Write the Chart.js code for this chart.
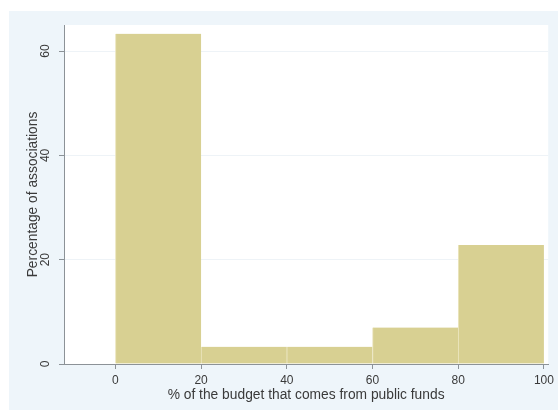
<!DOCTYPE html>
<html lang="en">
<head>
    <meta charset="UTF-8">
    <title>Share of budget from public funds</title>
    <script src="https://cdn.jsdelivr.net/npm/chart.js"></script>
    <style>
        html, body { margin: 0; padding: 0; background: #ffffff; }
        #wrap { width: 558px; height: 410px; }
    </style>
</head>
<body>
    <div id="wrap"><canvas id="histChart" width="558" height="410"></canvas></div>

    <script>
        // histogram bins (lower edge, upper edge) and share of associations in each
        const binStarts = [0, 20, 40, 60, 80];
        const binWidth = 20;
        const percentages = [63.3, 3.3, 3.3, 7.0, 22.8];
        const xTicks = [0, 20, 40, 60, 80, 100];
        const yTicks = [0, 20, 40, 60];

        const textColor = '#3a3a3a';
        const axisColor = '#8c9297';
        const font = 'Liberation Sans, Arial, Helvetica, sans-serif';

        // outer panel + white plot region, then rotated y tick labels
        const stataBackground = {
            id: 'stataBackground',
            beforeDraw(chart) {
                const ctx = chart.ctx;
                const a = chart.chartArea;
                ctx.save();
                ctx.fillStyle = '#eef5fa';
                ctx.fillRect(9, 11, chart.width - 9, chart.height - 11);
                ctx.fillStyle = '#ffffff';
                ctx.fillRect(a.left, a.top, a.right - a.left, a.bottom - a.top);
                ctx.restore();
            },
            afterDraw(chart) {
                const ctx = chart.ctx;
                const y = chart.scales.y;
                ctx.save();
                ctx.fillStyle = textColor;
                ctx.font = '12px ' + font;
                ctx.textAlign = 'center';
                ctx.textBaseline = 'middle';
                yTicks.forEach(v => {
                    ctx.save();
                    ctx.translate(46, y.getPixelForValue(v));
                    ctx.rotate(-Math.PI / 2);
                    ctx.fillText(String(v), 0, 0);
                    ctx.restore();
                });
                ctx.restore();
            }
        };

        new Chart(document.getElementById('histChart'), {
            type: 'bar',
            data: {
                datasets: [{
                    data: binStarts.map((s, i) => ({ x: s + binWidth / 2, y: percentages[i] })),
                    backgroundColor: '#d8d092',
                    borderColor: '#ebe5bf',
                    borderWidth: { left: 1, right: 0, top: 0, bottom: 0 },
                    borderSkipped: false,
                    barPercentage: 1,
                    categoryPercentage: 1
                }]
            },
            options: {
                responsive: false,
                animation: false,
                layout: { padding: { left: 0, right: 9, top: 25, bottom: 0 } },
                plugins: {
                    legend: { display: false },
                    tooltip: { enabled: false }
                },
                scales: {
                    x: {
                        type: 'linear',
                        min: -12,
                        max: 101,
                        offset: false,
                        afterBuildTicks: s => { s.ticks = xTicks.map(v => ({ value: v })); },
                        afterFit: s => { s.height = 46; },
                        grid: { offset: false, drawOnChartArea: false, tickLength: 5, tickColor: axisColor },
                        border: { color: axisColor, width: 1 },
                        ticks: { color: textColor, font: { family: font, size: 12 }, padding: 4, maxRotation: 0 },
                        title: {
                            display: true,
                            text: '% of the budget that comes from public funds',
                            color: textColor,
                            font: { family: font, size: 13.8 },
                            padding: { top: 0, bottom: 7 }
                        }
                    },
                    y: {
                        min: 0,
                        max: 65,
                        afterBuildTicks: s => { s.ticks = yTicks.map(v => ({ value: v })); },
                        afterFit: s => { s.width = 64; },
                        grid: { color: '#eef3f7', tickLength: 5, tickColor: axisColor },
                        border: { color: axisColor, width: 1 },
                        ticks: { display: false },
                        title: {
                            display: true,
                            text: 'Percentage of associations',
                            color: textColor,
                            font: { family: font, size: 13.8 },
                            padding: { top: 25, bottom: 0 }
                        }
                    }
                }
            },
            plugins: [stataBackground]
        });
    </script>
</body>
</html>
